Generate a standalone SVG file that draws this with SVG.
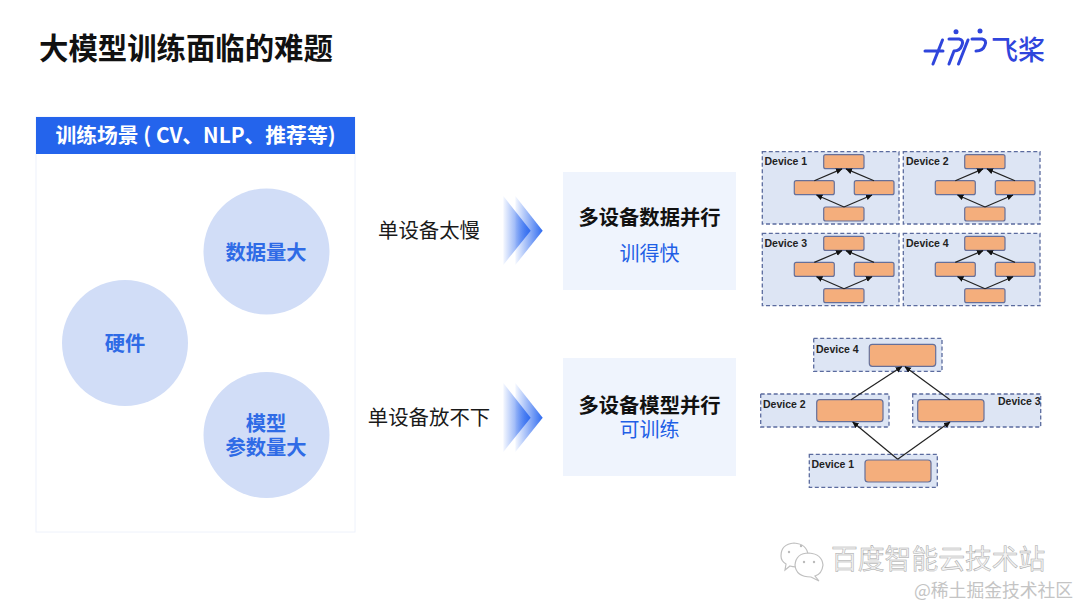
<svg xmlns="http://www.w3.org/2000/svg" width="1080" height="607" viewBox="0 0 1080 607">
<style>
text{font-family:"Noto Sans CJK SC","Liberation Sans",sans-serif}
.circle{fill:#d1ddf7}
.ctext{font-size:20.300px;font-weight:700;fill:#2f6be6;text-anchor:middle}
.lbl{font-size:20.400px;fill:#1a1a1a;text-anchor:middle}
.card{fill:#eff4fd}
.ct{font-size:20.300px;font-weight:700;fill:#111;text-anchor:middle}
.cb{font-size:20px;fill:#1f5fe6;text-anchor:middle}
.dev{fill:#dde5f4;stroke:#5b6b9e;stroke-width:1.300;stroke-dasharray:4 2.500}
.nd{fill:#f4ae7c;stroke:#66709a;stroke-width:1.200}
.dt{font-family:"Liberation Sans",Arial,sans-serif;font-size:10.500px;font-weight:700;fill:#222}
.ar{fill:none;stroke:#222;stroke-width:1.200;marker-end:url(#ah)}
.logo{fill:none;stroke:#2f45dc;stroke-width:3;stroke-linecap:round;stroke-linejoin:round}
.wb{fill:#fff;stroke:#c0c0c0;stroke-width:1.200}
</style>
<defs>
<marker id="ah" markerWidth="7" markerHeight="7" refX="6" refY="3" orient="auto" markerUnits="userSpaceOnUse"><path d="M0 0L6.500 3L0 6Z" fill="#111"/></marker>
<linearGradient id="chev" x1="0" x2="1" y1="0" y2="0"><stop offset="0" stop-color="#2f6bf0" stop-opacity="0.05"/><stop offset="1" stop-color="#2f6bf0"/></linearGradient>
<g id="chevron"><path d="M503.300 196L530.700 230.700L503.300 265Z" fill="url(#chev)"/><path d="M515.300 196L542.700 230.700L515.300 265Z" fill="url(#chev)"/></g>
<g id="inner">
<rect class="dev" x="762.300" y="151.700" width="136.700" height="72.300"/>
<rect class="nd" x="823.700" y="154.700" width="40.300" height="14" rx="2"/>
<rect class="nd" x="794.300" y="180.700" width="40" height="14" rx="2"/>
<rect class="nd" x="854.300" y="180.700" width="39.700" height="14" rx="2"/>
<rect class="nd" x="823.700" y="207" width="40.300" height="14" rx="2"/>
<path class="ar" d="M814.300 180.700L842 168.900"/><path class="ar" d="M874 180.700L846 168.900"/>
<path class="ar" d="M844 207L816.500 195"/><path class="ar" d="M844 207L872 195"/>
</g>
</defs>
<rect width="1080" height="607" fill="#ffffff"/>
<text x="39" y="59" font-size="29.400" font-weight="700" fill="#111">大模型训练面临的难题</text>
<g id="logo">
<path class="logo" d="M925 51H943M942.500 40L933 64"/>
<path class="logo" d="M949 39H959Q964 40 962 45Q960 51 954 51M954 51L949 64"/>
<path class="logo" d="M972 39H982Q987 40 985 45Q983 51 976 51M968 40L958.500 64"/>
<circle cx="956" cy="31.700" r="2.500" fill="#2f45dc"/>
<circle cx="980" cy="31" r="2.500" fill="#2f45dc"/>
<text x="991" y="60" font-size="27" font-weight="500" fill="#2f45dc">飞桨</text>
</g>
<g id="panel">
<rect x="36" y="117" width="319" height="415" fill="#fff" stroke="#eef2fb"/>
<rect x="36" y="117" width="319" height="37" fill="#2464ec"/>
<text x="195.500" y="143" font-size="20.800" font-weight="700" fill="#fff" text-anchor="middle">训练场景 ( CV、NLP、推荐等)</text>
</g>
<g id="node-data"><circle class="circle" cx="266.500" cy="251.500" r="63"/><text class="ctext" x="266" y="260">数据量大</text></g>
<g id="node-hw"><circle class="circle" cx="125" cy="343" r="63"/><text class="ctext" x="125" y="351">硬件</text></g>
<g id="node-model"><circle class="circle" cx="266.500" cy="435" r="63"/><text class="ctext"><tspan x="266" y="431">模型</tspan><tspan x="266" y="455">参数量大</tspan></text></g>
<g id="label-slow"><text class="lbl" x="429" y="238">单设备太慢</text></g>
<g id="label-big"><text class="lbl" x="429" y="425">单设备放不下</text></g>
<g id="chevrons"><use href="#chevron"/><use href="#chevron" y="187"/></g>
<g id="card-data"><rect class="card" x="563" y="172" width="173" height="118"/><text class="ct" x="649.500" y="225">多设备数据并行</text><text class="cb" x="649.500" y="261">训得快</text></g>
<g id="card-model"><rect class="card" x="563" y="358" width="173" height="118"/><text class="cb"><tspan class="ct" x="649.500" y="413">多设备模型并行</tspan><tspan x="649.500" y="437">可训练</tspan></text></g>
<g id="data-parallel">
<g id="dp1"><use href="#inner"/><text class="dt" x="764.500" y="165">Device 1</text></g>
<g id="dp2"><use href="#inner" x="141"/><text class="dt" x="906" y="165">Device 2</text></g>
<g id="dp3"><use href="#inner" y="81.700"/><text class="dt" x="764.500" y="247">Device 3</text></g>
<g id="dp4"><use href="#inner" x="141" y="81.700"/><text class="dt" x="906" y="247">Device 4</text></g>
</g>
<g id="md4"><rect class="dev" x="813.700" y="338.300" width="128.300" height="33"/><rect class="nd" x="869.300" y="344.300" width="66.400" height="22" rx="3"/><text class="dt" x="816" y="353">Device 4</text></g>
<g id="md2"><rect class="dev" x="760.700" y="394" width="128.300" height="33"/><rect class="nd" x="816.700" y="399.700" width="66.300" height="22" rx="3"/><text class="dt" x="763" y="408">Device 2</text></g>
<g id="md3"><rect class="dev" x="912.700" y="394" width="128" height="33"/><rect class="nd" x="917.700" y="399.700" width="66.300" height="22" rx="3"/><text class="dt" x="998" y="405">Device 3</text></g>
<g id="md1"><rect class="dev" x="809.300" y="454.300" width="128" height="33"/><rect class="nd" x="865" y="460" width="66" height="22" rx="3"/><text class="dt" x="811.500" y="468">Device 1</text></g>
<g id="connectors">
<path class="ar" d="M897.700 459.300L852.700 422"/>
<path class="ar" d="M897.700 459.300L950 422"/>
<path class="ar" d="M851 399.700L901.700 366.700"/>
<path class="ar" d="M950 399.700L905 366.700"/>
</g>
<g id="watermark">
<path class="wb" d="M781 556Q781 544 794 543Q807 544 808 555Q804 570 790 566L785 570L786 564Q781 561 781 556Z"/>
<path class="wb" d="M795 565Q796 553 809 553Q822 554 823 565Q822 574 815 576L819 581L811 577Q796 577 795 565Z"/>
<g fill="#bbb"><circle cx="789" cy="552" r="1.200"/><circle cx="801" cy="546" r="1.200"/><circle cx="804" cy="562" r="1.200"/><circle cx="814" cy="562" r="1.200"/></g>
<text x="831" y="569" font-size="26.800" fill="#f2f2f2" stroke="#a8a8a8" stroke-width="0.500">百度智能云技术站</text>
<text x="914" y="597" font-size="17.800" fill="#c4c4c4">@稀土掘金技术社区</text>
</g>
</svg>
